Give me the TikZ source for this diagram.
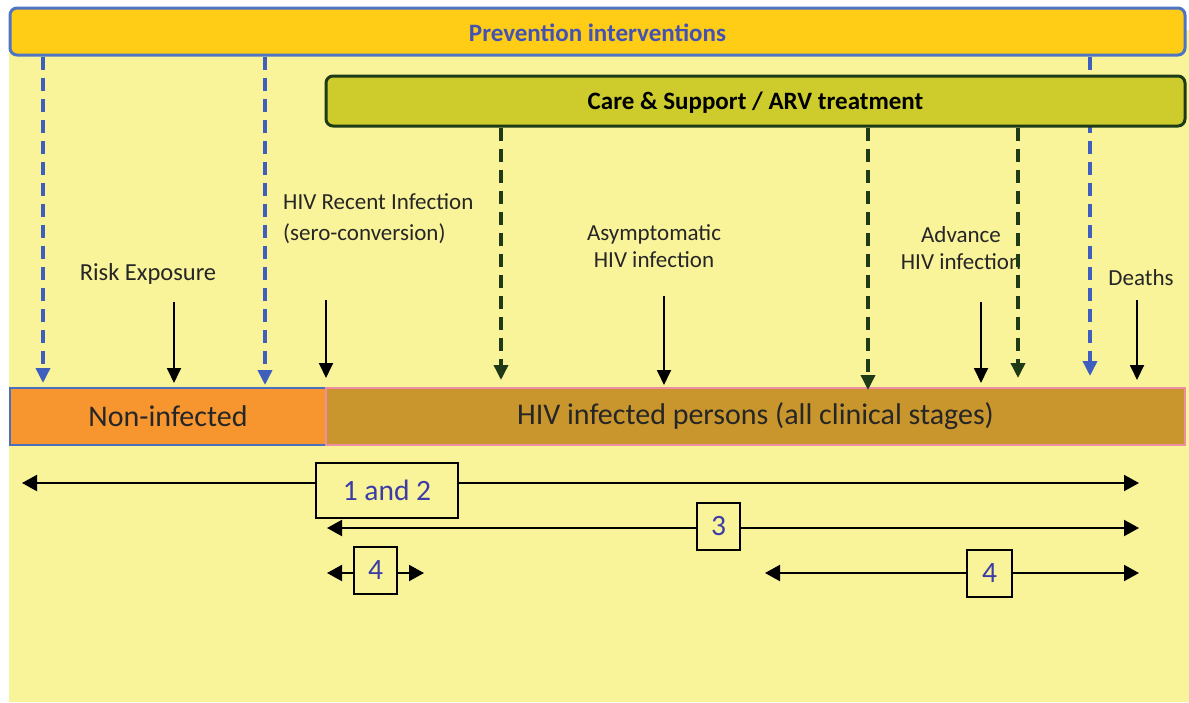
\documentclass[tikz,border=0pt]{standalone}
\usepackage{fontspec}
\setmainfont{Carlito}
\usetikzlibrary{arrows.meta,positioning}
\definecolor{bgyel}{RGB}{249,243,154}
\definecolor{prevfill}{RGB}{255,204,22}
\definecolor{prevdraw}{RGB}{79,116,196}
\definecolor{prevtext}{RGB}{68,82,178}
\definecolor{carefill}{RGB}{205,204,44}
\definecolor{caredraw}{RGB}{30,58,23}
\definecolor{dashblue}{RGB}{63,95,191}
\definecolor{nonfill}{RGB}{247,150,47}
\definecolor{nondraw}{RGB}{74,111,191}
\definecolor{hivfill}{RGB}{200,150,44}
\definecolor{hivdraw}{RGB}{236,143,165}
\definecolor{numblue}{RGB}{60,60,168}
\definecolor{ink}{RGB}{38,38,38}
\tikzset{
  bar/.style={rounded corners=7pt, line width=3pt, inner sep=0pt, text height=21pt, font=\fontsize{25}{28}\selectfont\bfseries},
  stagebox/.style={draw, line width=1.2pt, inner sep=0pt, minimum height=57pt, text=ink, font=\fontsize{30}{34}\selectfont},
  lab/.style={font=\fontsize{23}{27}\selectfont, text=ink, align=center, inner sep=0pt},
  numbox/.style={draw, line width=2pt, fill=bgyel, text=numblue, inner sep=0pt, minimum height=47pt, font=\fontsize{29.5}{33}\selectfont},
  prevarr/.style={-{Triangle[length=15pt,width=14pt]}, line width=3.5pt, dashblue, dash pattern=on 13pt off 8pt},
  carearr/.style={-{Triangle[length=15pt,width=14pt]}, line width=3.5pt, caredraw, dash pattern=on 13pt off 8pt},
  arr/.style={-{Triangle[length=15pt,width=14pt]}, line width=1.8pt, black},
  span/.style={-{Triangle[length=15pt,width=16pt]}, line width=2pt, black}
}
\begin{document}
\begin{tikzpicture}[x=1pt,y=-1pt]
\useasboundingbox (0,0) rectangle (1189,702);
\fill[bgyel] (9,30) rectangle (1189,702);

% ---------------- Prevention bar ----------------
\node[bar, fill=prevfill, draw=prevdraw, text=prevtext, minimum width=1175pt, minimum height=47pt] (prev) at (597.5,31.5) {Prevention interventions};

\coordinate (pa) at (43,383);
\coordinate (pb) at (265,385);
\coordinate (pc) at (1090,376);
\draw[prevarr] (prev.south -| pc) -- (pc);

% ---------------- Care bar ----------------
\node[bar, fill=carefill, draw=caredraw, text=black, minimum width=859pt, minimum height=50pt] (care) at (755.5,101) {Care \& Support / ARV treatment};

\draw[prevarr] (prev.south -| pa) -- (pa);
\draw[prevarr] (prev.south -| pb) -- (pb);

% ---------------- Stages ----------------
\node[stagebox, fill=nonfill, draw=nondraw, minimum width=316pt] (non) at (168,416.5) {Non-infected};
\node[stagebox, fill=hivfill, draw=hivdraw, minimum width=859pt] (hiv) at (755.5,416.5) {HIV infected persons (all clinical stages)};

\node[lab, font=\fontsize{24.5}{28}\selectfont] (risk) at (148,274) {Risk Exposure};
\node[lab, align=left, anchor=west] (recent) at (283,218.5) {HIV Recent Infection\\[4pt](sero-conversion)};
\node[lab] (asym) at (654,246.5) {Asymptomatic\\HIV infection};
\node[lab] (adv) at (961,248.5) {Advance\\HIV infection};
\node[lab] (death) at (1141,278) {Deaths};

% event arrows
\coordinate (e1) at (174,302); \coordinate (f1) at (174,383);
\coordinate (e2) at (326,300); \coordinate (f2) at (326,378);
\coordinate (e3) at (664,296); \coordinate (f3) at (664,385);
\coordinate (e4) at (981,302); \coordinate (f4) at (981,383);
\coordinate (e5) at (1137,300); \coordinate (f5) at (1137,380);
\foreach \i in {1,...,5}
  \draw[arr] (e\i) -- (f\i);

% care arrows
\coordinate (ca) at (501,380);
\coordinate (cb) at (868,390);
\coordinate (cc) at (1018,378);
\foreach \c in {ca,cb,cc}
  \draw[carearr] (care.south -| \c) -- (\c);

% ---------------- Spans ----------------
\node[numbox, minimum width=142pt, minimum height=55pt] (n12) at (387,490.5) {1 and 2};
\coordinate (s1l) at (22,483); \coordinate (s1r) at (1139,483);
\draw[span] (n12.west |- s1l) -- (s1l);
\draw[span] (n12.east |- s1r) -- (s1r);

\node[numbox, minimum width=43pt] (n3) at (718.5,526.5) {3};
\coordinate (s2l) at (327,528); \coordinate (s2r) at (1139,528);
\draw[span] (n3.west |- s2l) -- (s2l);
\draw[span] (n3.east |- s2r) -- (s2r);

\node[numbox, minimum width=43pt] (n4a) at (375.5,570.5) {4};
\coordinate (s3l) at (327,573); \coordinate (s3r) at (424,573);
\draw[span] (n4a.west |- s3l) -- (s3l);
\draw[span] (n4a.east |- s3r) -- (s3r);

\node[numbox, minimum width=45pt] (n4b) at (989.5,573.5) {4};
\coordinate (s4l) at (765,573); \coordinate (s4r) at (1139,573);
\draw[span] (n4b.west |- s4l) -- (s4l);
\draw[span] (n4b.east |- s4r) -- (s4r);

\end{tikzpicture}
\end{document}
